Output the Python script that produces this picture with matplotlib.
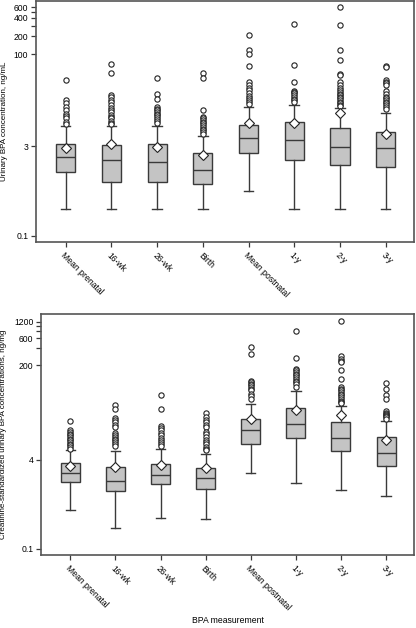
import matplotlib
matplotlib.use("Agg")
import matplotlib.pyplot as plt
from matplotlib.ticker import FixedLocator, NullFormatter

plt.rcParams["font.family"] = ["Liberation Sans", "DejaVu Sans"]

labels = ["Mean prenatal", "16-wk", "26-wk", "Birth", "Mean postnatal", "1-y", "2-y", "3-y"]

# urinary BPA, ng/mL
top_q1   = [1.13, 0.78, 0.78, 0.71, 2.33, 1.76, 1.49, 1.35]
top_med  = [2.0, 1.76, 1.67, 1.2, 4.12, 3.86, 2.92, 2.85]
top_q3   = [3.32, 3.16, 3.24, 2.30, 6.84, 7.57, 6.03, 5.18]
top_lo   = [0.273, 0.273, 0.273, 0.273, 0.548, 0.273, 0.273, 0.273]
top_hi   = [6.58, 6.58, 6.58, 4.5, 13.6, 14.5, 12.8, 10.8]
top_mean = [2.85, 3.24, 2.92, 2.13, 7.38, 7.2, 10.8, 4.85]
top_fliers = [
    [37, 17.5, 15.4, 13.6, 12.0, 10.5, 9.5, 8.7, 7.66, 7.1],
    [70.6, 50, 21.2, 19.5, 17.5, 16, 14.5, 13, 12, 11, 9.9, 9.2, 8.7, 8.0, 7.4, 7.0],
    [40.4, 22, 18, 13.3, 12.5, 12, 11.2, 10.5, 9.8, 9.3, 8.6, 8.0, 7.4],
    [49.4, 40.4, 12, 9.3, 8.8, 8.3, 7.7, 7.2, 6.7, 6.3, 5.9, 5.6, 5.2, 4.9],
    [207, 120, 103, 64, 35, 31, 28, 25.6, 22.6, 20.5, 18.7, 17.5, 16.4, 15],
    [316, 67, 35, 25, 23.5, 22.6, 21, 19.9, 18.5, 17.5, 16.2],
    [610, 307, 120, 82, 47, 45, 35, 31, 27.3, 25.5, 24, 22.5, 21.2, 20, 18.7, 17.5, 16.4, 15.4, 14.5, 13.8],
    [64.6, 62, 37.5, 35, 33, 31, 24.6, 22.5, 19.9, 18.7, 17.5, 16.4, 15.4, 14.5, 13.6, 12.5],
]
top_ticks = [0.1, 3, 100, 200, 400, 600]
top_minor = [300, 500]

# creatinine-standardized BPA, ng/mg
bot_q1   = [1.61, 1.09, 1.43, 1.17, 7.52, 9.75, 5.7, 3.03]
bot_med  = [2.25, 1.68, 2.09, 1.83, 13.8, 17.7, 9.64, 5.34]
bot_q3   = [3.53, 2.91, 3.39, 2.83, 21.1, 33.6, 18.7, 10.2]
bot_lo   = [0.5, 0.232, 0.355, 0.336, 2.34, 1.52, 1.13, 0.88]
bot_hi   = [5.87, 5.8, 6.3, 5.04, 40.3, 67.9, 36, 19.4]
bot_mean = [3.07, 2.91, 3.16, 2.83, 21.1, 30.6, 24.9, 8.87]
bot_fliers = [
    [19.7, 13.4, 12.5, 11.7, 10.9, 10.2, 9.5, 8.87, 8.3, 7.74, 7.2, 6.73, 6.3],
    [39, 32.8, 22.6, 20.5, 18.9, 17, 15.3, 12, 10.9, 10.2, 9.5, 8.8, 8.27, 7.6, 7.0],
    [58.5, 32.8, 15.8, 14.5, 13.4, 12, 10.9, 9.8, 8.87, 8.3, 7.74, 6.9],
    [27.4, 23.2, 20.8, 18.9, 17, 15.3, 12.5, 11.3, 10.2, 8.87, 8.2, 7.5, 6.73, 6.2, 5.87],
    [429, 318, 105, 98, 92, 86, 80, 75, 70, 61, 55, 49.6],
    [807, 269, 171, 160, 149, 140, 130, 121, 113, 105, 98, 90, 80],
    [1256, 296, 258, 240, 224, 166, 110, 82, 75, 70, 65, 61, 57, 53, 49, 46, 43, 41],
    [96, 75, 59, 48, 29.7, 28, 26.7, 25, 23.9, 22.8, 21.7],
]
bot_ticks = [0.1, 4, 200, 600, 1200]
bot_minor = [400, 800, 1000]

EDGE = "#3a3a3a"
FS = 6.2
LFS = 5.8


def make_stats(q1, med, q3, lo, hi, mean, fliers):
    return [dict(q1=a, med=b, q3=c, whislo=d, whishi=e, mean=f, fliers=g)
            for a, b, c, d, e, f, g in zip(q1, med, q3, lo, hi, mean, fliers)]


def draw(ax, stats, ylim, ticks, minor, ylabel):
    ax.bxp(stats, positions=range(1, len(stats) + 1), widths=0.42,
           showmeans=True, patch_artist=True,
           boxprops=dict(facecolor="#c4c4c4", edgecolor=EDGE, linewidth=1.0),
           medianprops=dict(color=EDGE, linewidth=1.0),
           whiskerprops=dict(color=EDGE, linewidth=1.0),
           capprops=dict(color=EDGE, linewidth=1.0),
           flierprops=dict(marker="o", markersize=3.8, markerfacecolor="white",
                           markeredgecolor="#222222", markeredgewidth=0.8),
           meanprops=dict(marker="D", markersize=5.5, markerfacecolor="white",
                          markeredgecolor="#222222", markeredgewidth=0.8))
    ax.set_yscale("log")
    ax.set_ylim(*ylim)
    ax.set_xlim(0.35, len(stats) + 0.62)
    ax.yaxis.set_major_locator(FixedLocator(ticks))
    ax.set_yticklabels([f"{t:g}" for t in ticks])
    ax.yaxis.set_minor_locator(FixedLocator(minor))
    ax.yaxis.set_minor_formatter(NullFormatter())
    ax.set_xticks(range(1, len(stats) + 1))
    ax.set_xticklabels(labels, rotation=-45, ha="left", va="top",
                       rotation_mode="anchor", fontsize=FS)
    ax.tick_params(axis="both", which="both", length=3.5, width=0.9,
                   color=EDGE, labelsize=FS, pad=2)
    ax.tick_params(axis="x", pad=3)
    for s in ax.spines.values():
        s.set_color("#555555")
        s.set_linewidth(1.2)
    ax.set_ylabel(ylabel, fontsize=LFS)


fig = plt.figure(figsize=(4.16, 6.28), dpi=100)
ax1 = fig.add_axes([0.0865, 0.6146, 0.9087, 0.3838])
ax2 = fig.add_axes([0.0986, 0.1162, 0.8966, 0.3838])

draw(ax1, make_stats(top_q1, top_med, top_q3, top_lo, top_hi, top_mean, top_fliers),
     (0.0787, 763), top_ticks, top_minor, "Urinary BPA concentration, ng/mL")
draw(ax2, make_stats(bot_q1, bot_med, bot_q3, bot_lo, bot_hi, bot_mean, bot_fliers),
     (0.077, 1650), bot_ticks, bot_minor,
     "Creatinine-standardized urinary BPA concentrations, ng/mg")

ax1.yaxis.set_label_coords(-0.074, 0.5)
ax2.yaxis.set_label_coords(-0.090, 0.5)
fig.text(0.547, 0.004, "BPA measurement", ha="center", va="bottom", fontsize=FS)

fig.savefig("out.png", dpi=100)
